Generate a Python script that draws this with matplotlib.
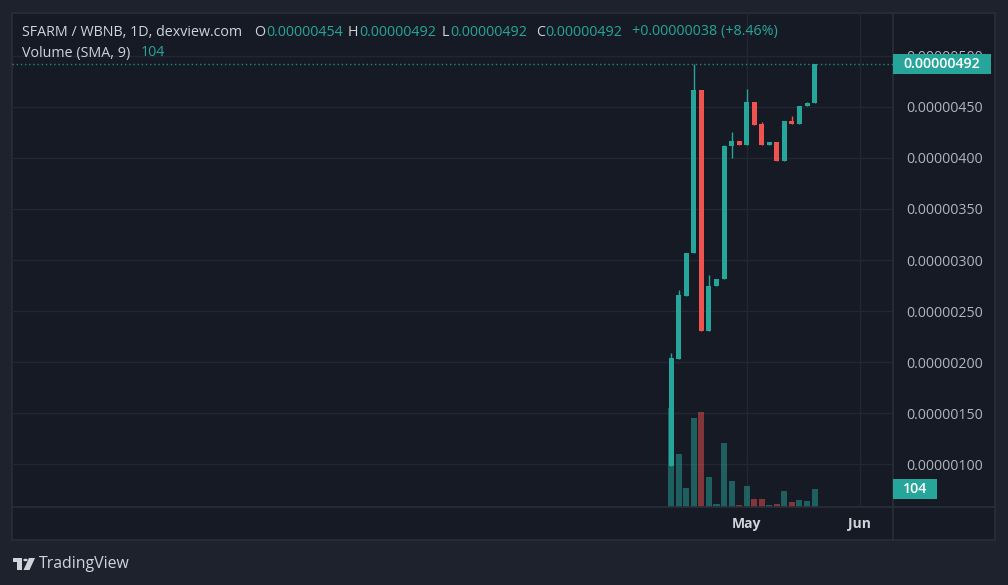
import numpy as np
import matplotlib
matplotlib.use("Agg")
import matplotlib.pyplot as plt
from matplotlib.patches import Rectangle, Polygon, Circle

# prices in units of 1e-8 WBNB
opens = [98, 203, 265, 307, 466, 231, 275, 281, 412, 416, 413, 455, 433, 413, 415, 397, 436, 433, 451, 454]
highs = [209, 271, 307, 492, 466, 285, 281, 413, 425, 416, 467, 455, 435, 415, 415, 436, 441, 451, 455, 492]
lows = [98, 203, 265, 307, 231, 231, 275, 281, 400, 413, 413, 432, 413, 413, 397, 397, 433, 433, 451, 454]
closes = [204, 266, 307, 466, 231, 275, 281, 412, 416, 413, 455, 432, 413, 415, 397, 436, 433, 451, 454, 492]
volumes = [582, 310, 113, 525, 559, 176, 19, 378, 153, 12, 123, 49, 49, 12, 18, 94, 31, 43, 35, 104]

month_pos = [10, 25]
month_labels = ["May", "Jun"]
price_ticks = [100, 150, 200, 250, 300, 350, 400, 450, 500]
last_price = 492
vol_sma = 104
# header legend as shown by the chart
ohlc_keys = ["O", "H", "L", "C"]
ohlc_vals = ["0.00000454", "0.00000492", "0.00000492", "0.00000492"]
change_txt = "+0.00000038 (+8.46%)"

W, H = 1008, 585
TEAL = "#26a69a"
RED = "#ef5350"
OUTER = "#1e222d"
PANE = "#161a25"
BORDER = "#2a2e39"
GRID = "#232733"
TXT = "#d1d4dc"
AXTXT = "#b2b5be"
FONT = "Open Sans"


def fx(px):
    return px / W


def fy(py):
    return 1 - py / H


fig = plt.figure(figsize=(W / 100, H / 100), dpi=100, facecolor=OUTER)

# chart frame
fig.patches.append(Rectangle((fx(12), fy(540)), fx(995) - fx(12), fy(13) - fy(540),
                             transform=fig.transFigure, facecolor=PANE, edgecolor=BORDER,
                             linewidth=1.2, zorder=-5))

rect = [fx(12), fy(507), fx(893) - fx(12), fy(13) - fy(507)]
gax = fig.add_axes(rect, zorder=1)
ax = fig.add_axes(rect, zorder=2)
ax.patch.set_visible(False)
gax.patch.set_visible(False)

x = np.arange(len(opens))
xlim = (-87.4, 29.4)

# grid (behind the volume bars)
gax.set_xlim(*xlim)
gax.set_ylim(58.3, 541.7)
for p in price_ticks:
    gax.axhline(p, color=GRID, linewidth=1, zorder=0)
for m in month_pos:
    gax.axvline(m, color=GRID, linewidth=1, zorder=0)
gax.axis("off")

# volume overlay on its own scale
vol_ax = fig.add_axes(rect, zorder=1.5)
vol_ax.patch.set_visible(False)
vcol = [TEAL if c >= o else RED for o, c in zip(opens, closes)]
vol_ax.bar(x, volumes, width=0.8, color=vcol, alpha=0.5, linewidth=0)
vol_ax.set_xlim(*xlim)
vol_ax.set_ylim(0, max(volumes) * 494 / 99)
vol_ax.axis("off")

# candles
for i in range(len(opens)):
    o, h, l, c = opens[i], highs[i], lows[i], closes[i]
    col = TEAL if c >= o else RED
    ax.vlines(x[i], l, h, color=col, linewidth=1, zorder=3)
    body = max(abs(c - o), 1.5)
    ax.bar(x[i], body, bottom=min(o, c), width=0.66, color=col, linewidth=0, zorder=4)

ax.set_xlim(*xlim)
ax.set_ylim(58.3, 541.7)
ax.axhline(last_price, color=TEAL, linestyle=(0, (1, 2)), linewidth=1, alpha=0.8, zorder=5)

ax.yaxis.tick_right()
ax.set_yticks(price_ticks)
ax.set_yticklabels([f"{p * 1e-8:.8f}" for p in price_ticks])
ax.tick_params(axis="y", length=0, pad=9.5, labelsize=10.2, labelcolor=AXTXT)
ax.set_xticks(month_pos)
ax.set_xticklabels(month_labels)
ax.tick_params(axis="x", length=0, pad=7, labelsize=10, labelcolor=TXT)
for lab in ax.get_xticklabels() + ax.get_yticklabels():
    lab.set_fontfamily(FONT)
for lab in ax.get_xticklabels():
    lab.set_fontweight("bold")
for s in ax.spines.values():
    s.set_visible(False)

# separators
fig.add_artist(plt.Line2D([fx(12), fx(995)], [fy(507), fy(507)], color=BORDER, linewidth=1.2))
fig.add_artist(plt.Line2D([fx(893), fx(893)], [fy(13), fy(540)], color=BORDER, linewidth=1.2))


# value boxes on the price scale
def scale_box(price_y, w, text, axis):
    ypix = axis.transData.transform((0, price_y))[1]
    fig.patches.append(Rectangle((fx(893), (ypix - 10) / H), fx(w), 20 / H,
                                 transform=fig.transFigure, facecolor=TEAL,
                                 edgecolor="none", zorder=5))
    fig.text(fx(893 + w / 2), ypix / H, text, color="white", ha="center", va="center",
             fontsize=10.2, fontfamily=FONT, fontweight="semibold", zorder=6)


scale_box(last_price, 98, f"{last_price * 1e-8:.8f}", ax)
scale_box(volumes[-1], 44, str(vol_sma), vol_ax)

# legend header
hdr = dict(fontsize=10.3, fontfamily=FONT, va="center")
fig.text(fx(22), fy(32), "SFARM / WBNB, 1D, dexview.com", color=TXT, **hdr)
for k, v, px in zip(ohlc_keys, ohlc_vals, [254, 348, 442, 536]):
    key = fig.text(fx(px), fy(32), k, color=TXT, **hdr)
    fig.add_artist(plt.Annotation(v, xy=(1, 0.5), xycoords=key, xytext=(0.5, 0),
                                  textcoords="offset points", color=TEAL, **hdr))
fig.text(fx(632), fy(32), change_txt, color=TEAL, **hdr)
fig.text(fx(22), fy(53), "Volume (SMA, 9)", color=TXT, **hdr)
fig.text(fx(141), fy(53), str(vol_sma), color=TEAL, **hdr)

# TradingView logo
logo = "#d1d4dc"
fig.patches.append(Rectangle((fx(13), fy(562)), fx(9), 4 / H, transform=fig.transFigure,
                             facecolor=logo, edgecolor="none"))
fig.patches.append(Rectangle((fx(17), fy(570)), fx(4.5), 12 / H, transform=fig.transFigure,
                             facecolor=logo, edgecolor="none"))
fig.patches.append(Circle((fx(25.5), fy(560)), 2.2 / W, transform=fig.transFigure,
                          facecolor=logo, edgecolor="none"))
fig.patches.append(Polygon([(fx(29), fy(558)), (fx(35), fy(558)), (fx(29.5), fy(570)),
                            (fx(23.5), fy(570))], closed=True, transform=fig.transFigure,
                           facecolor=logo, edgecolor="none"))
fig.text(fx(39), fy(564), "TradingView", color=logo, fontsize=11.4, fontfamily=FONT,
         va="center")

fig.savefig("out.png", dpi=100, facecolor=OUTER)
